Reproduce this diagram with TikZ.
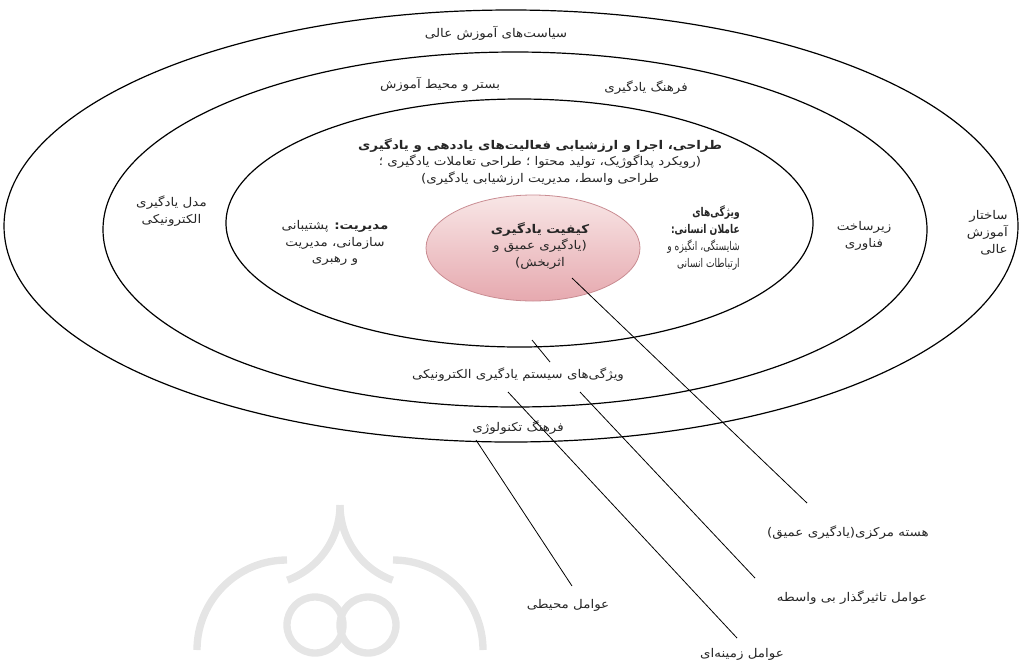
\documentclass[tikz,border=0pt]{standalone}
\usepackage{fontspec}
\setmainfont{DejaVu Sans}
\newfontfamily\fa[Script=Arabic,FakeStretch=1.12]{DejaVu Sans}
\newfontfamily\faN[Script=Arabic,FakeStretch=0.76]{DejaVu Sans}
\TeXXeTstate=1
\usetikzlibrary{shapes.geometric}
\newcommand{\pr}[1]{\beginR #1\endR}
\definecolor{pinklight}{HTML}{F8E6E6}
\definecolor{pinkdark}{HTML}{E6A9AF}
\definecolor{pinkedge}{HTML}{C98C92}
\begin{document}
\begin{tikzpicture}[x=0.75pt,y=-0.75pt,
  ring/.style={ellipse,draw=black,line width=0.9pt,inner sep=0pt},
  lbl/.style={font=\fa\fontsize{9}{12.6}\selectfont,text=black!85,inner sep=0pt},
  lbln/.style={font=\faN\fontsize{9}{12.6}\selectfont,text=black!85,inner sep=0pt},
  conn/.style={draw=black,line width=0.6pt},
  wm/.style={draw=black!10,line width=5.5pt}]
\useasboundingbox (0,0) rectangle (1020,661);
% watermark
\draw[wm] (340,505) arc[start angle=0,end angle=70,radius=80];
\draw[wm] (340,505) arc[start angle=180,end angle=110,radius=80];
\draw[wm] (315,625) circle[radius=28];
\draw[wm] (368,625) circle[radius=28];
\draw[wm] (197,650) arc[start angle=180,end angle=270,radius=90];
\draw[wm] (483,650) arc[start angle=0,end angle=-90,radius=90];
% rings
\node[ring,minimum width=760.5pt,minimum height=324pt] (e1) at (511,226) {};
\node[ring,minimum width=618pt,minimum height=266.25pt] (e2) at (515,229.5) {};
\node[ring,minimum width=440.25pt,minimum height=186pt] (e3) at (519.5,223) {};
\node[ellipse,draw=pinkedge,line width=0.6pt,top color=pinklight,bottom color=pinkdark,minimum width=160.5pt,minimum height=79.5pt,inner sep=0pt] (q) at (533,248) {};
% texts
\node[lbl] (t1) at (496,33) {\pr{سیاست‌های آموزش عالی}};
\node[lbl] (t2) at (440,84) {\pr{بستر و محیط آموزش}};
\node[lbl] (t3) at (646,88) {\pr{فرهنگ یادگیری}};
\node[lbl,align=center,anchor=north] (t4) at (540,138) {\pr{\bfseries طراحی، اجرا و ارزشیابی فعالیت‌های یاددهی و یادگیری}\\\pr{(رویکرد پداگوژیک، تولید محتوا ؛ طراحی تعاملات یادگیری ؛}\\\pr{طراحی واسط، مدیریت ارزشیابی یادگیری)}};
\node[lbl,align=center] (qt) at (540,246) {\pr{\bfseries کیفیت یادگیری}\\\pr{(یادگیری عمیق و}\\\pr{اثربخش)}};
\node[lbl,align=center] (m) at (335,243) {\pr{{\bfseries مدیریت:} پشتیبانی}\\\pr{سازمانی، مدیریت}\\\pr{و رهبری}};
\node[lbl,align=center,anchor=east] (l) at (207,211) {\pr{مدل یادگیری}\\\pr{الکترونیکی}};
\node[lbln,align=right,anchor=east] (h) at (740,238) {\pr{\bfseries ویژگی‌های}\\\pr{\bfseries عاملان انسانی:}\\\pr{شایستگی، انگیزه و}\\\pr{ارتباطات انسانی}};
\node[lbl,align=center] (z) at (864,236) {\pr{زیرساخت}\\\pr{فناوری}};
\node[lbl,align=right,anchor=east] (s) at (1008,233) {\pr{ساختار}\\\pr{آموزش}\\\pr{عالی}};
\node[lbl] (v) at (518,375) {\pr{ویژگی‌های سیستم یادگیری الکترونیکی}};
\node[lbl] (f) at (518,428) {\pr{فرهنگ تکنولوژی}};
\node[lbl] (b1) at (848,533) {\pr{هسته مرکزی(یادگیری عمیق)}};
\node[lbl] (b2) at (852,598) {\pr{عوامل تاثیرگذار بی واسطه}};
\node[lbl] (b3) at (742,654) {\pr{عوامل زمینه‌ای}};
\node[lbl] (b4) at (568,605) {\pr{عوامل محیطی}};
% connectors
\coordinate (c1s) at (572,278); \coordinate (c1e) at (807,503);
\coordinate (c2s) at (580,392); \coordinate (c2e) at (755,578);
\coordinate (c3s) at (508,392); \coordinate (c3e) at (737,638);
\coordinate (c4s) at (476,440); \coordinate (c4e) at (572,586);
\coordinate (c5s) at (532,340); \coordinate (c5e) at (550,362);
\draw[conn] (c1s) -- (c1e);
\draw[conn] (c2s) -- (c2e);
\draw[conn] (c3s) -- (c3e);
\draw[conn] (c4s) -- (c4e);
\draw[conn] (c5s) -- (c5e);
\end{tikzpicture}
\end{document}
